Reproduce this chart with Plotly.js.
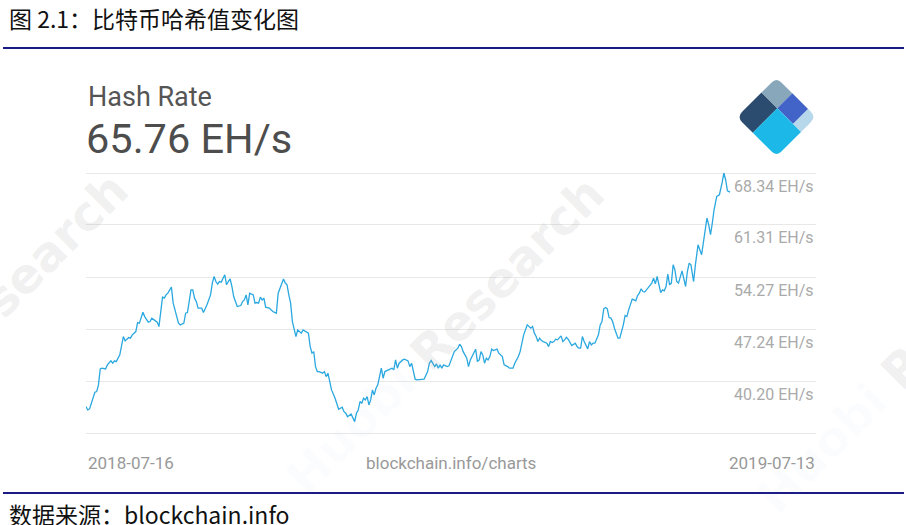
<!DOCTYPE html>
<html>
<head>
<meta charset="utf-8">
<script src="https://cdn.plot.ly/plotly-3.0.1.min.js"></script>
<style>
html,body{margin:0;padding:0;background:#fff;}
#chart{width:906px;height:525px;}
</style>
</head>
<body>
<div id="chart"></div>
<script>
// ---------------- data ----------------
const dates = [
"2018-07-16","2018-07-17","2018-07-18","2018-07-20","2018-07-21","2018-07-22","2018-07-23","2018-07-24","2018-07-25","2018-07-27",
"2018-07-28","2018-07-30","2018-07-31","2018-08-01","2018-08-02","2018-08-04","2018-08-05","2018-08-06","2018-08-07","2018-08-09",
"2018-08-10","2018-08-11","2018-08-13","2018-08-14","2018-08-15","2018-08-17","2018-08-18","2018-08-20","2018-08-21","2018-08-22",
"2018-08-24","2018-08-25","2018-08-26","2018-08-27","2018-08-28","2018-08-29","2018-08-30","2018-08-31","2018-09-02","2018-09-03",
"2018-09-05","2018-09-06","2018-09-07","2018-09-09","2018-09-10","2018-09-11","2018-09-12","2018-09-13","2018-09-14","2018-09-15",
"2018-09-16","2018-09-17","2018-09-19","2018-09-20","2018-09-22","2018-09-24","2018-09-25","2018-09-26","2018-09-27","2018-09-28",
"2018-09-29","2018-09-30","2018-10-02","2018-10-03","2018-10-04","2018-10-05","2018-10-06","2018-10-07","2018-10-09","2018-10-11",
"2018-10-12","2018-10-13","2018-10-14","2018-10-15","2018-10-16","2018-10-18","2018-10-19","2018-10-20","2018-10-21","2018-10-22",
"2018-10-23","2018-10-24","2018-10-25","2018-10-27","2018-10-29","2018-10-31","2018-11-01","2018-11-02","2018-11-03","2018-11-04",
"2018-11-05","2018-11-06","2018-11-07","2018-11-08","2018-11-09","2018-11-10","2018-11-11","2018-11-12","2018-11-13","2018-11-14",
"2018-11-15","2018-11-17","2018-11-18","2018-11-19","2018-11-20","2018-11-21","2018-11-22","2018-11-23","2018-11-24","2018-11-26",
"2018-11-27","2018-11-28","2018-11-29","2018-11-30","2018-12-01","2018-12-03","2018-12-04","2018-12-05","2018-12-07","2018-12-08",
"2018-12-09","2018-12-10","2018-12-12","2018-12-13","2018-12-14","2018-12-15","2018-12-16","2018-12-17","2018-12-18","2018-12-19",
"2018-12-20","2018-12-21","2018-12-22","2018-12-23","2018-12-24","2018-12-25","2018-12-26","2018-12-27","2018-12-29","2018-12-30",
"2018-12-31","2019-01-02","2019-01-03","2019-01-04","2019-01-05","2019-01-06","2019-01-07","2019-01-08","2019-01-10","2019-01-11",
"2019-01-13","2019-01-14","2019-01-15","2019-01-16","2019-01-17","2019-01-18","2019-01-20","2019-01-22","2019-01-24","2019-01-25",
"2019-01-26","2019-01-28","2019-01-29","2019-01-30","2019-01-31","2019-02-01","2019-02-02","2019-02-04","2019-02-05","2019-02-07",
"2019-02-08","2019-02-10","2019-02-11","2019-02-12","2019-02-13","2019-02-15","2019-02-16","2019-02-17","2019-02-18","2019-02-20",
"2019-02-21","2019-02-22","2019-02-23","2019-02-24","2019-02-25","2019-02-26","2019-02-27","2019-02-28","2019-03-01","2019-03-02",
"2019-03-04","2019-03-05","2019-03-07","2019-03-08","2019-03-10","2019-03-11","2019-03-13","2019-03-14","2019-03-16","2019-03-17",
"2019-03-18","2019-03-19","2019-03-21","2019-03-22","2019-03-23","2019-03-24","2019-03-25","2019-03-26","2019-03-27","2019-03-28",
"2019-03-29","2019-03-30","2019-04-01","2019-04-02","2019-04-03","2019-04-04","2019-04-05","2019-04-06","2019-04-07","2019-04-09",
"2019-04-10","2019-04-11","2019-04-12","2019-04-13","2019-04-14","2019-04-15","2019-04-17","2019-04-18","2019-04-19","2019-04-20",
"2019-04-21","2019-04-22","2019-04-24","2019-04-25","2019-04-26","2019-04-27","2019-04-28","2019-04-30","2019-05-01","2019-05-02",
"2019-05-03","2019-05-04","2019-05-05","2019-05-06","2019-05-07","2019-05-08","2019-05-09","2019-05-11","2019-05-12","2019-05-13",
"2019-05-14","2019-05-15","2019-05-16","2019-05-17","2019-05-18","2019-05-19","2019-05-20","2019-05-21","2019-05-22","2019-05-23",
"2019-05-24","2019-05-25","2019-05-26","2019-05-27","2019-05-28","2019-05-29","2019-05-30","2019-05-31","2019-06-01","2019-06-02",
"2019-06-03","2019-06-04","2019-06-05","2019-06-06","2019-06-07","2019-06-08","2019-06-09","2019-06-10","2019-06-11","2019-06-12",
"2019-06-13","2019-06-14","2019-06-16","2019-06-17","2019-06-18","2019-06-19","2019-06-20","2019-06-21","2019-06-22","2019-06-22 12:00",
"2019-06-23 12:00","2019-06-25","2019-06-26","2019-06-27","2019-06-28 12:00","2019-06-30","2019-07-01","2019-07-02","2019-07-03","2019-07-04",
"2019-07-05 12:00","2019-07-07","2019-07-08 12:00","2019-07-09 12:00","2019-07-10 12:00","2019-07-11 12:00","2019-07-13"
];
const hashRate = [
36.74,36.29,36.43,38.09,38.69,38.77,39.68,41.84,41.94,41.84,
42.38,42.93,42.61,42.93,42.83,43.74,45.09,46.22,45.63,46.08,
46.00,46.45,46.89,48.11,48.03,49.52,48.92,48.17,48.25,48.71,
48.34,48.17,47.57,50.06,51.55,51.41,51.86,52.09,52.90,50.74,
48.71,48.03,47.80,48.03,49.38,49.47,50.95,52.54,52.54,51.41,
50.95,50.06,50.06,49.47,50.51,51.86,53.45,54.34,53.66,53.31,
53.66,53.58,54.57,53.22,53.66,54.03,52.99,51.63,50.28,50.41,
50.95,51.18,51.86,50.51,52.09,51.86,50.74,50.82,50.74,51.55,
51.18,51.41,50.20,50.06,49.60,49.38,52.09,52.77,53.22,53.99,
53.45,53.22,51.86,50.74,48.25,47.35,46.22,47.12,46.89,46.68,
47.12,46.89,46.68,44.86,43.97,44.18,42.15,41.48,41.48,41.26,
41.48,40.80,41.26,40.12,39.00,37.87,37.20,36.39,36.66,36.06,
35.84,35.38,35.75,35.17,34.71,35.84,36.29,37.42,37.20,37.87,
37.65,38.09,36.97,37.65,39.00,38.32,39.23,39.68,41.94,40.58,
41.48,41.71,41.80,41.94,41.71,43.06,41.94,42.61,43.06,43.16,
42.93,42.15,42.61,41.48,40.45,40.35,40.35,40.45,41.48,42.61,
42.97,42.15,42.52,41.94,42.38,41.94,42.38,42.15,42.25,43.51,
44.18,44.64,45.19,44.86,44.18,43.29,42.15,43.06,43.51,44.51,
42.83,43.06,44.18,43.74,42.61,43.29,43.06,43.51,44.51,44.32,
44.51,43.97,43.51,42.38,42.15,41.94,41.94,42.61,43.51,44.18,
45.32,46.45,47.80,47.57,47.35,47.57,46.68,46.22,45.54,46.00,
45.67,45.54,45.32,44.86,45.54,45.40,45.54,45.86,45.77,46.31,
45.54,45.77,46.13,45.86,45.50,45.00,45.32,44.86,44.64,44.64,
46.22,45.54,44.55,45.54,45.09,45.32,45.32,46.45,47.80,48.25,
49.97,50.14,49.97,48.79,48.71,48.25,47.35,46.00,46.00,46.89,
47.80,49.06,48.92,49.83,50.51,51.28,51.18,51.05,51.77,52.09,
52.67,52.31,52.23,52.54,52.85,53.12,53.45,54.12,53.35,54.34,
53.22,52.17,52.54,52.40,52.99,54.66,53.22,53.45,55.92,55.25,
53.66,53.45,55.11,53.89,52.99,55.02,56.15,55.92,53.89,53.66,
55.92,58.63,57.95,57.28,59.76,62.25,61.34,59.99,61.57,63.37,
65.17,65.40,67.00,68.34,67.43,65.94,65.76
];
const gridValues = [33.17, 40.20, 47.24, 54.27, 61.31, 68.34];
const labeledTicks = [40.20, 47.24, 54.27, 61.31, 68.34];
const unit = "EH/s";
const chartTitle = "图 2.1：比特币哈希值变化图";
const sourceText = "数据来源：blockchain.info";
const metricName = "Hash Rate";
const startLabel = "2018-07-16";
const endLabel = "2019-07-13";
const siteLabel = "blockchain.info/charts";
const watermark = ["Huobi", "Research"];

// ---------------- layout helpers ----------------
const W = 906, H = 525;
const M = {l: 86, r: 90, t: 168, b: 90};
const PW = W - M.l - M.r, PH = H - M.t - M.b;
const px = x => (x - M.l) / PW;          // page px -> paper x
const py = y => (H - M.b - y) / PH;      // page px -> paper y

const FONT = "Roboto, 'Open Sans', Arial, sans-serif";
const CJK = "'Noto Sans CJK SC', 'Noto Sans', sans-serif";

const annotations = [];
function txt(text, x, y, size, color, xanchor, family, extra) {
  annotations.push(Object.assign({
    text: text, xref: 'paper', yref: 'paper', x: px(x), y: py(y),
    xanchor: xanchor, yanchor: 'middle', showarrow: false,
    font: {family: family || FONT, size: size, color: color}
  }, extra || {}));
}

// watermarks (faint, as in the reference)
const wm = '<b><span style="color:rgba(120,185,230,0.22)">' + watermark[0] + '</span> ' + watermark[1] + '</b>';
[[445, 335], [-31, 331], [916, 354]].forEach(([x, y]) => {
  txt(wm, x, y, 48, 'rgba(150,150,150,0.15)', 'center', "'DejaVu Sans', Arial, sans-serif", {textangle: -45});
});

// header / footer texts
txt(chartTitle, 7, 18, 23, '#111', 'left', CJK);
txt(sourceText, 7, 514, 23, '#111', 'left', CJK);
txt(metricName, 86, 97, 27, '#555', 'left');
txt(hashRate[hashRate.length - 1].toFixed(2) + ' ' + unit, 84, 138, 41.5, '#4d4d4d', 'left');
txt(startLabel, 86, 463, 17, '#999', 'left');
txt(siteLabel, 451, 463, 17, '#999', 'center');
txt(endLabel, 817, 463, 17, '#999', 'right');

// y tick labels (below gridline, right side)
labeledTicks.forEach(v => {
  annotations.push({
    text: v.toFixed(2) + ' ' + unit, xref: 'paper', yref: 'y', x: 1, y: v,
    xanchor: 'right', yanchor: 'middle', yshift: -13, xshift: 0, showarrow: false,
    font: {family: FONT, size: 16, color: '#aaaaaa'}
  });
});

// shapes: navy rules + logo
const shapes = [];
function hline(y) {
  shapes.push({type: 'line', xref: 'paper', yref: 'paper', x0: px(3), x1: px(904), y0: py(y), y1: py(y),
    line: {color: '#1b1b86', width: 2}});
}
hline(48); hline(493);

// logo: diamond in rotated (a,b) coordinates
const LC = {x: 737, y: 117}, HD = 39.5;
const pt = (a, b) => [LC.x + HD * a + HD * b, LC.y - HD * a + HD * b];
function piece(a0, a1, b0, b1, color, roundCorner) {
  const corners = [[a0, b0], [a1, b0], [a1, b1], [a0, b1]];
  const r = 0.13;
  let d = '';
  corners.forEach((c, i) => {
    const isRound = roundCorner && c[0] === roundCorner[0] && c[1] === roundCorner[1];
    if (isRound) {
      const prev = corners[(i + 3) % 4], next = corners[(i + 1) % 4];
      const toward = (p, q) => [p[0] + Math.sign(q[0] - p[0]) * r, p[1] + Math.sign(q[1] - p[1]) * r];
      const s = pt(...toward(c, prev)), e = pt(...toward(c, next)), m = pt(...c);
      d += (d ? 'L' : 'M') + px(s[0]) + ',' + py(s[1]) + 'Q' + px(m[0]) + ',' + py(m[1]) + ' ' + px(e[0]) + ',' + py(e[1]);
    } else {
      const p = pt(...c);
      d += (d ? 'L' : 'M') + px(p[0]) + ',' + py(p[1]);
    }
  });
  shapes.push({type: 'path', xref: 'paper', yref: 'paper', path: d + 'Z', fillcolor: color, line: {width: 0}, layer: 'above'});
}
piece(0, 0.62, 0, 0.4, '#2b4c6f', [0, 0]);
piece(0.62, 1, 0, 0.4, '#89a7ba', [1, 0]);
piece(0.62, 1, 0.4, 0.8, '#4264c8', null);
piece(0.62, 1, 0.8, 1, '#b6d8ea', [1, 1]);
piece(0, 0.62, 0.4, 1, '#1bb8e8', [0, 1]);

const trace = {
  x: dates, y: hashRate, type: 'scatter', mode: 'lines',
  line: {color: '#2aa8df', width: 1.3}, hoverinfo: 'skip'
};

const layout = {
  width: W, height: H, margin: M,
  paper_bgcolor: '#ffffff', plot_bgcolor: '#ffffff',
  showlegend: false,
  xaxis: {type: 'date', range: ['2018-07-16', '2019-08-30 07:00'], showgrid: false, zeroline: false,
    showline: false, showticklabels: false, ticks: ''},
  yaxis: {range: [32.90, 69.02], tickvals: gridValues, showticklabels: false, ticks: '',
    showgrid: true, gridcolor: '#e8e8e8', gridwidth: 1, zeroline: false, showline: false},
  annotations: annotations,
  shapes: shapes
};

Plotly.newPlot('chart', [trace], layout, {staticPlot: true, displayModeBar: false});
</script>
</body>
</html>
